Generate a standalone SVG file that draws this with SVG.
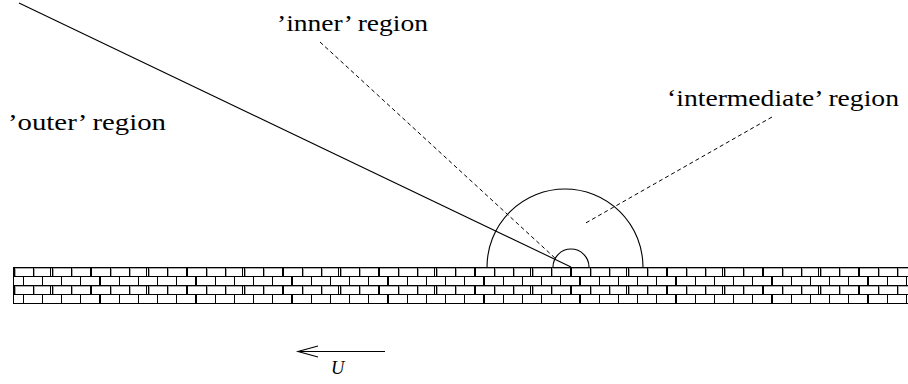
<svg xmlns="http://www.w3.org/2000/svg" width="908" height="384" viewBox="0 0 908 384">
<style>
.ln{stroke:#000;stroke-width:1.1;fill:none}
.dash{stroke:#000;stroke-width:1;fill:none;stroke-dasharray:4 3}
.bk{stroke:#000;stroke-width:1.2}
.gr{stroke:#a8a8a8;stroke-width:1}
</style>
<defs>
<pattern id="bricks" patternUnits="userSpaceOnUse" x="52" y="267" width="96" height="18">
<g shape-rendering="crispEdges">
<line class="gr" x1="0" y1="1.5" x2="96" y2="1.5"/>
<line class="gr" x1="1.5" y1="0" x2="1.5" y2="9"/>
<line class="gr" x1="20.7" y1="0" x2="20.7" y2="9"/>
<line class="gr" x1="39.9" y1="0" x2="39.9" y2="9"/>
<line class="gr" x1="59.1" y1="0" x2="59.1" y2="9"/>
<line class="gr" x1="78.3" y1="0" x2="78.3" y2="9"/>
<line class="bk" x1="0" y1="0.5" x2="96" y2="0.5"/>
<line class="bk" x1="0" y1="9.5" x2="96" y2="9.5"/>
<line class="bk" x1="0.5" y1="0" x2="0.5" y2="9"/>
<line class="bk" x1="19.7" y1="0" x2="19.7" y2="9"/>
<line class="bk" x1="38.9" y1="0" x2="38.9" y2="9"/>
<line class="bk" x1="58.1" y1="0" x2="58.1" y2="9"/>
<line class="bk" x1="77.3" y1="0" x2="77.3" y2="9"/>
<line class="bk" x1="94.5" y1="0" x2="94.5" y2="9"/>
<line class="bk" x1="9.6" y1="9" x2="9.6" y2="18"/>
<line class="bk" x1="28.8" y1="9" x2="28.8" y2="18"/>
<line class="bk" x1="48" y1="9" x2="48" y2="18"/>
<line class="bk" x1="67.2" y1="9" x2="67.2" y2="18"/>
<line class="bk" x1="86.4" y1="9" x2="86.4" y2="18"/>
</g>
</pattern>
</defs>
<rect width="908" height="384" fill="#fff"/>
<g id="wall">
<rect x="13" y="267" width="895" height="36" fill="url(#bricks)"/>
<line class="bk" x1="13.5" y1="267" x2="13.5" y2="303.5" shape-rendering="crispEdges"/>
<line class="bk" x1="13" y1="303.5" x2="908" y2="303.5" shape-rendering="crispEdges"/>
</g>
<g id="regions">
<path id="inner-arc" class="ln" d="M553,267 A18,18 0 0 1 589,267"/>
<path id="intermediate-arc" class="ln" d="M487,267 A78,78 0 0 1 643,267"/>
<line id="outer-boundary" class="ln" x1="19" y1="3" x2="571" y2="267"/>
</g>
<g id="connectors">
<line class="dash" x1="320" y1="42" x2="556" y2="259"/>
<line class="dash" x1="772" y1="117" x2="584" y2="224"/>
</g>
<g id="labels" font-family="Liberation Serif, DejaVu Serif, serif" font-size="23.5" fill="#000">
<text x="277" y="31" textLength="151" lengthAdjust="spacingAndGlyphs">’inner’ region</text>
<text x="8" y="130" textLength="158" lengthAdjust="spacingAndGlyphs">’outer’ region</text>
<text x="667" y="106" textLength="232" lengthAdjust="spacingAndGlyphs">‘intermediate’ region</text>
</g>
<g id="velocity">
<line class="ln" x1="298" y1="351.5" x2="385" y2="351.5"/>
<polyline class="ln" points="318,346 298,351.5 318,357"/>
<text x="331" y="374" font-family="Liberation Serif, DejaVu Serif, serif" font-size="18.5" font-style="italic">U</text>
</g>
</svg>
